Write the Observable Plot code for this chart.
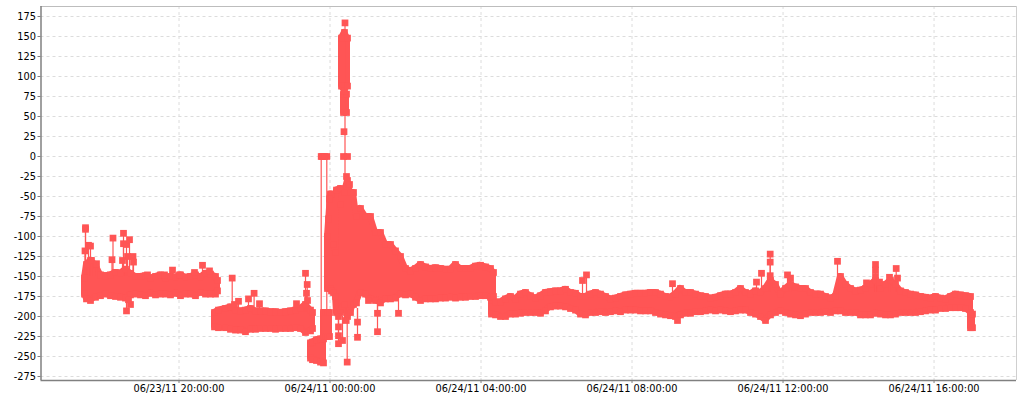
<!DOCTYPE html>
<html>
<head>
<meta charset="utf-8">
<style>html,body{margin:0;padding:0;background:#fff}svg{display:block}</style>
<script src="https://cdn.jsdelivr.net/npm/d3@7"></script>
<script src="https://cdn.jsdelivr.net/npm/@observablehq/plot@0.6"></script>
</head>
<body>
<div id="chart"></div>
<script>
// Sample clock: one sample column lasts sampleSeconds; column 27.5 is 06/23/11 16:00:00
const sampleSeconds = 95.36;
const clockStart = Date.UTC(2011, 5, 23, 16, 0, 0);
const clockColumn = 27.5;
const xTicks = ["2011-06-23T20:00:00Z","2011-06-24T00:00:00Z","2011-06-24T04:00:00Z","2011-06-24T08:00:00Z","2011-06-24T12:00:00Z","2011-06-24T16:00:00Z"];
const yTicks = [-275,-250,-225,-200,-175,-150,-125,-100,-75,-50,-25,0,25,50,75,100,125,150,175];
const color = "#ff5555";

// Dense band of the series: upper and lower envelope per column (a new run starts when the column steps back)
const bandCols = [84,86,90,95,100,105,110,115,120,125,130,135,140,145,150,155,160,165,170,175,180,185,190,195,200,205,210,215,217,
 214,218,225,230,235,240,245,250,255,260,265,270,275,280,285,290,295,300,305,310,312,
 310,312,316,320,323,
 323,325,327,329,
 327,330,331,333,335,336,340,344,347,350,353,356,360,365,370,375,380,385,390,395,400,405,410,415,420,425,430,435,440,445,450,455,460,465,470,475,480,485,490,493,
 491,495,500,505,510,515,520,525,530,535,540,545,550,555,560,565,570,575,580,585,590,595,600,605,610,615,620,625,630,635,640,645,650,655,660,665,670,675,680,685,690,695,700,705,710,715,720,725,730,735,740,745,750,755,760,765,770,775,780,785,790,795,800,805,810,815,820,825,830,835,840,845,850,855,860,865,870,875,880,885,890,895,900,905,910,915,920,925,930,935,940,945,950,955,960,965,970,
 970,972,
 341,344,347,
 343,346];
const bandHi = [-152,-135,-130,-135,-148,-149,-148,-145,-146,-141,-146,-150,-150,-149,-152,-150,-148,-152,-150,-151,-148,-151,-150,-148,-151,-146,-147,-150,-155,
 -195,-192,-190,-188,-192,-193,-192,-190,-193,-193,-193,-194,-194,-195,-194,-193,-192,-190,-185,-192,-195,
 -233,-232,-229,-228,-228,
 -195,-195,-195,-195,
 -100,-47,-47,-110,-120,-42,-40,-45,-30,-45,-45,-75,-65,-75,-75,-95,-95,-110,-110,-118,-125,-140,-143,-140,-135,-138,-140,-139,-140,-141,-141,-135,-140,-140,-140,-137,-136,-138,-140,-145,
 -180,-182,-182,-178,-175,-178,-172,-170,-174,-177,-174,-170,-169,-168,-168,-166,-170,-171,-175,-175,-172,-170,-172,-175,-178,-177,-175,-173,-172,-171,-171,-171,-170,-170,-172,-175,-176,-172,-165,-170,-170,-172,-174,-175,-177,-176,-174,-172,-172,-170,-165,-170,-172,-168,-170,-165,-155,-160,-172,-165,-160,-163,-165,-165,-170,-172,-172,-175,-177,-175,-150,-160,-165,-168,-167,-165,-160,-155,-165,-160,-155,-160,-168,-170,-172,-173,-175,-176,-177,-175,-177,-178,-175,-172,-173,-174,-175,
 -197,-197,
 148,155,148,
 78,78];
const bandLo = [-172,-178,-180,-176,-174,-172,-174,-175,-176,-177,-173,-172,-173,-174,-171,-173,-172,-172,-173,-171,-174,-172,-172,-174,-170,-172,-172,-172,-168,
 -213,-214,-214,-216,-217,-217,-219,-216,-216,-215,-215,-215,-216,-215,-215,-215,-214,-215,-220,-218,-215,
 -252,-254,-255,-257,-258,
 -225,-225,-225,-225,
 -165,-165,-168,-170,-175,-195,-195,-185,-200,-195,-185,-183,-170,-172,-178,-180,-183,-178,-178,-177,-172,-173,-172,-176,-180,-178,-178,-178,-177,-177,-176,-177,-176,-176,-175,-175,-174,-174,-176,-175,
 -197,-198,-200,-200,-197,-197,-196,-195,-195,-195,-196,-193,-188,-187,-187,-188,-190,-192,-197,-198,-195,-195,-194,-195,-194,-193,-194,-192,-192,-192,-193,-193,-193,-195,-197,-198,-199,-200,-198,-196,-196,-194,-194,-193,-192,-193,-192,-193,-194,-193,-192,-192,-195,-197,-200,-205,-198,-195,-193,-195,-197,-198,-199,-197,-195,-195,-195,-194,-195,-193,-193,-195,-195,-195,-198,-198,-198,-196,-197,-198,-198,-197,-195,-195,-195,-195,-194,-193,-192,-192,-190,-190,-189,-189,-189,-190,-195,
 -214,-214,
 88,82,88,
 55,55];

// Isolated samples joined to the band by a thin line
const spikeCols = [85,85,84.5,88,90,91,96,112.5,111.5,123,123,126,129,127,132.5,133,122,126,130,128,147,164,172,179,194,202,209,
 231.7,253.6,248,238,234,259,296,305,306.7,306,307,
 320.7,326.3,344.5,
 346.7,338,342,345.7,357,357,377,377,398,338,338,368,
 582,586,672,677,769.7,769.7,769.7,761,756,787,790,837,875,875,875,889,895.7,897,866,879];
const spikeVals = [-89,-91,-118,-111,-112,-130,-134,-102,-129,-96,-109,-110,-104,-125,-125,-132,-130,-193,-185,-179,-148,-148,-142,-148,-145,-136,-143,
 -152,-171,-178,-181,-185,-184,-184,-146,-160,-171,-180,
 0,0,167,
 -257,-234,-230,-205,-226,-207,-219,-196,-196,-213,-224,-180,
 -155,-148,-159,-205,-122,-132,-149,-146,-157,-148,-152,-131,-135,-142,-150,-151,-140,-152,-158,-157];
const spikeEnds = [-150,-150,-150,-150,-150,-150,-150,-150,-150,-150,-150,-150,-150,-150,-150,-150,-150,-175,-175,-175,-150,-150,-150,-150,-150,-150,-150,
 -195,-195,-195,-195,-195,-195,-195,-195,-195,-195,-195,
 -232,-200,-40,
 -200,-200,-200,-190,-190,-190,-175,-175,-175,-200,-200,-175,
 -175,-175,-175,-195,-170,-170,-170,-170,-170,-170,-170,-170,-170,-170,-170,-170,-170,-170,-170,-170];

// Extra samples with no line of their own
const looseCols = [322,324,328,329,343.5,343,347,346,349,338,340];
const looseVals = [0,0,-78,-53,31,0,0,-25,-35,-200,-60];

const time = c => new Date(clockStart + (c - clockColumn) * sampleSeconds * 1000);

let run = 0;
const band = bandCols.map((c, i) => {
  if (i > 0 && c <= bandCols[i - 1]) run++;
  return {t: time(c), hi: bandHi[i], lo: bandLo[i], run};
});
const spikes = spikeCols.map((c, i) => ({t: time(c), v: spikeVals[i], e: spikeEnds[i]}));
const loose = looseCols.map((c, i) => ({t: time(c), v: looseVals[i]}));
const xTickDates = xTicks.map(d => new Date(d));
const xDomain = [time(40.5), time(1016)];
const yDomain = [-280, 187.5];
const fmt = d3.utcFormat("%m/%d/%y %H:%M:%S");
const square = {symbol: "square", r: 3.8, fill: color};

const chart = Plot.plot({
  width: 1024,
  height: 400,
  marginLeft: 40.5, marginRight: 8, marginTop: 6, marginBottom: 20,
  style: {fontFamily: "'DejaVu Sans', sans-serif", fontSize: "9.8px", background: "#fff", color: "#000"},
  x: {type: "utc", domain: xDomain, range: [40.5, 1016]},
  y: {domain: yDomain, range: [380, 6]},
  marks: [
    Plot.gridY(yTicks, {stroke: "#dcdcdc", strokeOpacity: 1, strokeDasharray: "3,3"}),
    Plot.gridX(xTickDates, {stroke: "#dcdcdc", strokeOpacity: 1, strokeDasharray: "3,3"}),
    Plot.ruleY([yDomain[1]], {stroke: "#bdbdbd"}),
    Plot.ruleX([xDomain[1]], {stroke: "#cfcfcf"}),
    Plot.ruleX([xDomain[0]], {stroke: "#808080", strokeWidth: 1.5}),
    Plot.ruleY([yDomain[0]], {stroke: "#808080", strokeWidth: 1.5}),
    Plot.axisY(yTicks, {anchor: "left", tickSize: 3, tickPadding: 2, label: null, tickFormat: d => String(d), stroke: "#808080", fill: "#000"}),
    Plot.axisX(xTickDates, {anchor: "bottom", tickSize: 3, tickPadding: 2, label: null, tickFormat: fmt, stroke: "#808080", fill: "#000"}),
    Plot.areaY(band, {x: "t", y1: "lo", y2: "hi", z: "run", fill: color, stroke: color, strokeWidth: 6, strokeLinejoin: "round"}),
    Plot.ruleX(spikes, {x: "t", y1: "v", y2: "e", stroke: color, strokeWidth: 1.2}),
    Plot.dot(band, {x: "t", y: "hi", ...square}),
    Plot.dot(band, {x: "t", y: "lo", ...square}),
    Plot.dot(spikes, {x: "t", y: "v", ...square}),
    Plot.dot(loose, {x: "t", y: "v", ...square})
  ]
});
document.getElementById("chart").appendChild(chart);
</script>
</body>
</html>
